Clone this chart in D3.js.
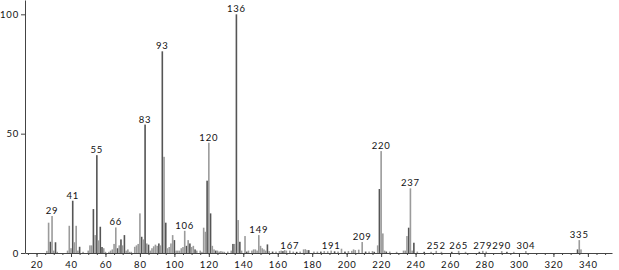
<!DOCTYPE html>
<html>
<head>
<meta charset="utf-8">
<script src="https://cdn.jsdelivr.net/npm/d3@7"></script>
<style>
  body { margin: 0; background: #fff; }
  text { font-family: Lato, "DejaVu Sans", sans-serif; font-size: 9.5px; letter-spacing: 0.8px; fill: #111; }
  .axis path, .axis line { stroke: #444; }
</style>
</head>
<body>
<script>
// mass spectrum, relative intensity (%) per m/z
// peaks drawn in the darker shade
var darkMz  = [28, 31, 41, 45, 53, 55, 57, 58, 67, 69, 71, 81, 83, 85, 91, 93, 95, 100, 107, 109, 112, 119, 121, 124, 134, 136, 138, 142, 154, 157, 163, 171, 178, 185, 193, 199, 211, 216, 219, 223, 236, 239, 245, 261, 277, 293, 334];
var darkInt = [4.7, 4.5, 21.9, 2.6, 18.4, 41, 11, 2.5, 2, 5.7, 7.5, 6.8, 53.8, 3.5, 4, 84.5, 12.7, 5.4, 3, 4, 1.5, 30.3, 16.6, 1, 3.8, 100, 4.7, 0.6, 3.6, 0.6, 0.8, 0.5, 1.2, 0.6, 0.7, 0.6, 0.6, 0.5, 26.8, 0.6, 10.6, 4.3, 0.5, 0.5, 0.5, 0.5, 1.5];

// peaks drawn in the lighter shade
var lightMz  = [26, 27, 29, 30, 32, 38, 39, 40, 42, 43, 44, 47, 50, 51, 52, 54, 56, 59, 60, 62, 63, 64, 65, 66, 68, 70, 72, 73, 74, 75, 77, 78, 79, 80, 82, 84, 86, 87, 88, 89, 90, 92, 94, 96, 97, 98, 99, 101, 102, 103, 104, 105, 106, 108, 110, 111, 113, 115, 116, 117, 118, 120, 122, 123, 125, 126, 127, 128, 129, 131, 133, 135, 137, 139, 141, 143, 145, 146, 147, 148, 149, 150, 151, 152, 153, 155, 159, 161, 162, 164, 165, 167, 169, 173, 175, 176, 177, 181, 183, 187, 189, 191, 195, 197, 201, 203, 204, 205, 207, 209, 213, 215, 218, 220, 221, 222, 225, 229, 233, 234, 235, 237, 238, 241, 249, 252, 255, 265, 269, 279, 281, 290, 297, 304, 335, 336];
var lightInt = [0.9, 12.7, 15.5, 1, 0.5, 1, 11.4, 2, 4.5, 11.4, 1, 0.5, 1, 3.2, 3.2, 7.5, 5.3, 2, 0.5, 0.5, 1, 1.5, 3.8, 10.7, 3.2, 3.2, 1, 1.5, 0.5, 0.5, 2.6, 3.2, 3.8, 16.6, 5.7, 4, 1, 2, 2.8, 3.5, 3, 3.2, 40.3, 2, 2.5, 4, 7.5, 1, 1, 1, 2, 2.5, 9.3, 5.4, 2.5, 3, 1, 1, 0.5, 10.6, 8.9, 46.2, 3, 1.5, 1, 0.6, 0.8, 0.6, 0.5, 0.6, 1, 3.8, 13.8, 1, 7.1, 1, 1, 1.5, 1.5, 1, 7.5, 3, 2, 1.5, 1, 0.8, 0.6, 0.8, 1, 1.2, 1, 1, 0.6, 0.6, 1.5, 1.6, 1.2, 0.6, 0.6, 0.8, 0.7, 1, 0.6, 1.8, 0.8, 0.9, 1.5, 1.2, 1.4, 4.6, 0.6, 0.8, 3.2, 42.7, 8.2, 1, 0.6, 0.5, 1, 1, 7.1, 27.1, 1, 0.6, 0.5, 0.9, 0.5, 0.9, 0.5, 0.9, 0.6, 0.8, 0.5, 0.8, 5.4, 1.5];

// labelled peaks
var labelMz = [29, 41, 55, 66, 83, 93, 106, 120, 136, 149, 167, 191, 209, 220, 237, 252, 265, 279, 290, 304, 335];

var xTicks = d3.range(20, 341, 20);
var yTicks = [0, 50, 100];

var w = 619, h = 270;

var svg = d3.select("body").append("svg")
    .attr("width", w)
    .attr("height", h);

var x = d3.scaleLinear().domain([13.3, 354]).range([25, 612]);
var y = d3.scaleLinear().domain([0, 106]).range([253, 0]);

var peaks = [];
darkMz.forEach(function(m, i) { peaks.push({mz: m, v: darkInt[i], c: "#555"}); });
lightMz.forEach(function(m, i) { peaks.push({mz: m, v: lightInt[i], c: "#9b9b9b"}); });

svg.selectAll("rect.peak")
    .data(peaks)
    .enter()
    .append("rect")
    .attr("class", "peak")
    .attr("x", function(d) { return x(d.mz) - 0.8; })
    .attr("y", function(d) { return y(d.v); })
    .attr("width", 1.6)
    .attr("height", function(d) { return y(0) - y(d.v); })
    .attr("fill", function(d) { return d.c; });

// minor ticks on x
svg.append("g")
    .attr("class", "axis")
    .attr("transform", "translate(0,253)")
    .call(d3.axisBottom(x).tickValues(d3.range(15, 351, 5)).tickSize(2).tickFormat(""))
    .call(function(g) { g.select(".domain").remove(); });

// x axis
svg.append("g")
    .attr("class", "axis")
    .attr("transform", "translate(0,253)")
    .call(d3.axisBottom(x).tickValues(xTicks).tickSize(4).tickSizeOuter(0).tickPadding(4));

// y axis
svg.append("g")
    .attr("class", "axis")
    .attr("transform", "translate(25,0)")
    .call(d3.axisLeft(y).tickValues(yTicks).tickSize(4).tickSizeOuter(0).tickPadding(2));

svg.selectAll(".axis text").attr("font-family", null).attr("font-size", null);

// peak labels
var lookup = {};
peaks.forEach(function(p) { if (!lookup[p.mz] || lookup[p.mz] < p.v) lookup[p.mz] = p.v; });

svg.selectAll("text.lbl")
    .data(labelMz)
    .enter()
    .append("text")
    .attr("class", "lbl")
    .attr("x", function(d) { return x(d); })
    .attr("y", function(d) { return Math.max(9.5, y(lookup[d] || 0) - 2); })
    .attr("text-anchor", "middle")
    .text(function(d) { return d; });
</script>
</body>
</html>
